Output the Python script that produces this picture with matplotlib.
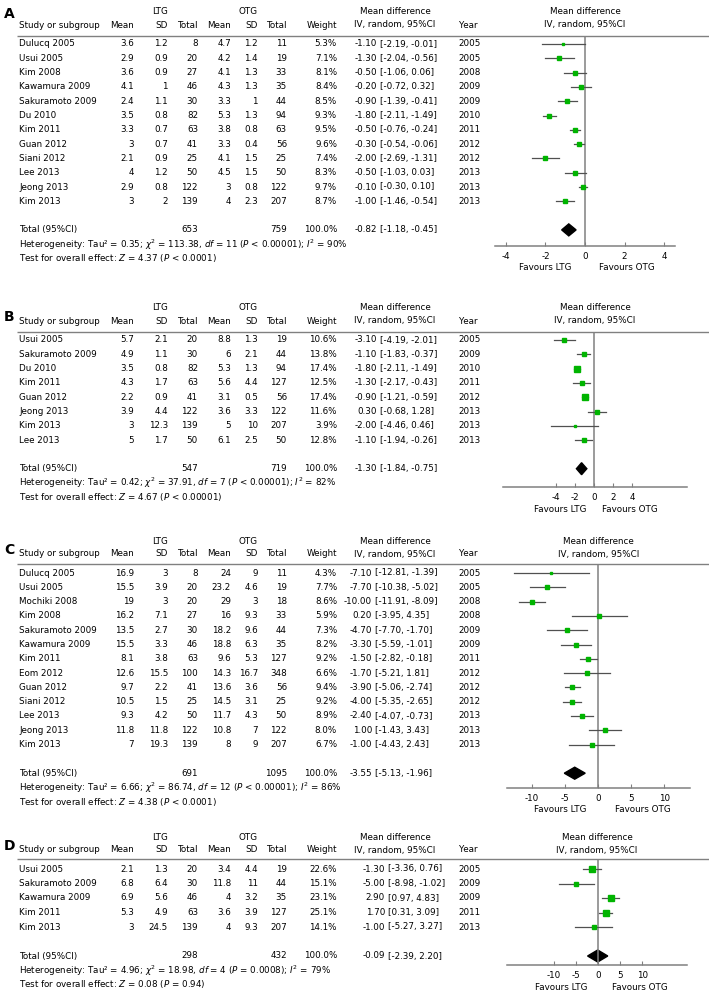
import matplotlib.pyplot as plt
import numpy as np

# ---- panel A ----
studies_a = ["Dulucq 2005", "Usui 2005", "Kim 2008", "Kawamura 2009", "Sakuramoto 2009", "Du 2010",
             "Kim 2011", "Guan 2012", "Siani 2012", "Lee 2013", "Jeong 2013", "Kim 2013"]
ltg_mean_a = [3.6, 2.9, 3.6, 4.1, 2.4, 3.5, 3.3, 3, 2.1, 4, 2.9, 3]
ltg_sd_a = [1.2, 0.9, 0.9, 1, 1.1, 0.8, 0.7, 0.7, 0.9, 1.2, 0.8, 2]
ltg_n_a = [8, 20, 27, 46, 30, 82, 63, 41, 25, 50, 122, 139]
otg_mean_a = [4.7, 4.2, 4.1, 4.3, 3.3, 5.3, 3.8, 3.3, 4.1, 4.5, 3, 4]
otg_sd_a = [1.2, 1.4, 1.3, 1.3, 1, 1.3, 0.8, 0.4, 1.5, 1.5, 0.8, 2.3]
otg_n_a = [11, 19, 33, 35, 44, 94, 63, 56, 25, 50, 122, 207]
weight_a = [5.3, 7.1, 8.1, 8.4, 8.5, 9.3, 9.5, 9.6, 7.4, 8.3, 9.7, 8.7]
md_a = [-1.10, -1.30, -0.50, -0.20, -0.90, -1.80, -0.50, -0.30, -2.00, -0.50, -0.10, -1.00]
lo_a = [-2.19, -2.04, -1.06, -0.72, -1.39, -2.11, -0.76, -0.54, -2.69, -1.03, -0.30, -1.46]
hi_a = [-0.01, -0.56, 0.06, 0.32, -0.41, -1.49, -0.24, -0.06, -1.31, 0.03, 0.10, -0.54]
year_a = [2005, 2005, 2008, 2009, 2009, 2010, 2011, 2012, 2012, 2013, 2013, 2013]
total_a = [653, 759, -0.82, -1.18, -0.45]
het_a = ["0.35", "113.38", "11", "< 0.00001", "90%"]
test_a = ["4.37", "< 0.0001"]
ticks_a = [-4, -2, 0, 2, 4]

# ---- panel B ----
studies_b = ["Usui 2005", "Sakuramoto 2009", "Du 2010", "Kim 2011", "Guan 2012", "Jeong 2013",
             "Kim 2013", "Lee 2013"]
ltg_mean_b = [5.7, 4.9, 3.5, 4.3, 2.2, 3.9, 3, 5]
ltg_sd_b = [2.1, 1.1, 0.8, 1.7, 0.9, 4.4, 12.3, 1.7]
ltg_n_b = [20, 30, 82, 63, 41, 122, 139, 50]
otg_mean_b = [8.8, 6, 5.3, 5.6, 3.1, 3.6, 5, 6.1]
otg_sd_b = [1.3, 2.1, 1.3, 4.4, 0.5, 3.3, 10, 2.5]
otg_n_b = [19, 44, 94, 127, 56, 122, 207, 50]
weight_b = [10.6, 13.8, 17.4, 12.5, 17.4, 11.6, 3.9, 12.8]
md_b = [-3.10, -1.10, -1.80, -1.30, -0.90, 0.30, -2.00, -1.10]
lo_b = [-4.19, -1.83, -2.11, -2.17, -1.21, -0.68, -4.46, -1.94]
hi_b = [-2.01, -0.37, -1.49, -0.43, -0.59, 1.28, 0.46, -0.26]
year_b = [2005, 2009, 2010, 2011, 2012, 2013, 2013, 2013]
total_b = [547, 719, -1.30, -1.84, -0.75]
het_b = ["0.42", "37.91", "7", "< 0.00001", "82%"]
test_b = ["4.67", "< 0.00001"]
ticks_b = [-4, -2, 0, 2, 4]

# ---- panel C ----
studies_c = ["Dulucq 2005", "Usui 2005", "Mochiki 2008", "Kim 2008", "Sakuramoto 2009", "Kawamura 2009",
             "Kim 2011", "Eom 2012", "Guan 2012", "Siani 2012", "Lee 2013", "Jeong 2013", "Kim 2013"]
ltg_mean_c = [16.9, 15.5, 19, 16.2, 13.5, 15.5, 8.1, 12.6, 9.7, 10.5, 9.3, 11.8, 7]
ltg_sd_c = [3, 3.9, 3, 7.1, 2.7, 3.3, 3.8, 15.5, 2.2, 1.5, 4.2, 11.8, 19.3]
ltg_n_c = [8, 20, 20, 27, 30, 46, 63, 100, 41, 25, 50, 122, 139]
otg_mean_c = [24, 23.2, 29, 16, 18.2, 18.8, 9.6, 14.3, 13.6, 14.5, 11.7, 10.8, 8]
otg_sd_c = [9, 4.6, 3, 9.3, 9.6, 6.3, 5.3, 16.7, 3.6, 3.1, 4.3, 7, 9]
otg_n_c = [11, 19, 18, 33, 44, 35, 127, 348, 56, 25, 50, 122, 207]
weight_c = [4.3, 7.7, 8.6, 5.9, 7.3, 8.2, 9.2, 6.6, 9.4, 9.2, 8.9, 8.0, 6.7]
md_c = [-7.10, -7.70, -10.00, 0.20, -4.70, -3.30, -1.50, -1.70, -3.90, -4.00, -2.40, 1.00, -1.00]
lo_c = [-12.81, -10.38, -11.91, -3.95, -7.70, -5.59, -2.82, -5.21, -5.06, -5.35, -4.07, -1.43, -4.43]
hi_c = [-1.39, -5.02, -8.09, 4.35, -1.70, -1.01, -0.18, 1.81, -2.74, -2.65, -0.73, 3.43, 2.43]
year_c = [2005, 2005, 2008, 2008, 2009, 2009, 2011, 2012, 2012, 2012, 2013, 2013, 2013]
total_c = [691, 1095, -3.55, -5.13, -1.96]
het_c = ["6.66", "86.74", "12", "< 0.00001", "86%"]
test_c = ["4.38", "< 0.0001"]
ticks_c = [-10, -5, 0, 5, 10]

# ---- panel D ----
studies_d = ["Usui 2005", "Sakuramoto 2009", "Kawamura 2009", "Kim 2011", "Kim 2013"]
ltg_mean_d = [2.1, 6.8, 6.9, 5.3, 3]
ltg_sd_d = [1.3, 6.4, 5.6, 4.9, 24.5]
ltg_n_d = [20, 30, 46, 63, 139]
otg_mean_d = [3.4, 11.8, 4, 3.6, 4]
otg_sd_d = [4.4, 11, 3.2, 3.9, 9.3]
otg_n_d = [19, 44, 35, 127, 207]
weight_d = [22.6, 15.1, 23.1, 25.1, 14.1]
md_d = [-1.30, -5.00, 2.90, 1.70, -1.00]
lo_d = [-3.36, -8.98, 0.97, 0.31, -5.27]
hi_d = [0.76, -1.02, 4.83, 3.09, 3.27]
year_d = [2005, 2009, 2009, 2011, 2013]
total_d = [298, 432, -0.09, -2.39, 2.20]
het_d = ["4.96", "18.98", "4", "= 0.0008", "79%"]
test_d = ["0.08", "= 0.94"]
ticks_d = [-10, -5, 0, 5, 10]

W, H = 709, 999
FS = 6.3
GREEN = '#00b400'
GRAY = '#808080'

fig = plt.figure(figsize=(W / 100, H / 100), dpi=100)
ax = fig.add_axes([0, 0, 1, 1])
ax.set_xlim(0, W)
ax.set_ylim(H, 0)
ax.axis('off')


def fmt(v):
    return '{:g}'.format(v)


def panel(letter, studies, lm, lsd, ln, om, osd, on, wt, md, lo, hi, yr, tot, het, test, ticks,
          y0, step, head_y, axis_y, fx0, fx1, xlim, md_x, fav):
    # header
    ax.text(4, y0 - 30 if letter == 'A' else y0 - 23, letter, fontsize=10, fontweight='bold', va='center')
    yh1 = y0 - 32
    yh2 = y0 - 19
    ax.text(160, yh1, "LTG", fontsize=FS, ha='center', va='center')
    ax.text(248, yh1, "OTG", fontsize=FS, ha='center', va='center')
    ax.text(395, yh1, "Mean difference", fontsize=FS, ha='center', va='center')
    fc = (fx0 + fx1) / 2
    ax.text(fc, yh1, "Mean difference", fontsize=FS, ha='center', va='center')
    ax.text(19, yh2, "Study or subgroup", fontsize=FS, va='center')
    for x, s in [(134, "Mean"), (168, "SD"), (198, "Total"), (231, "Mean"), (258, "SD"),
                 (287, "Total"), (337, "Weight")]:
        ax.text(x, yh2, s, fontsize=FS, ha='right', va='center')
    ax.text(395, yh2, "IV, random, 95%CI", fontsize=FS, ha='center', va='center')
    ax.text(468, yh2, "Year", fontsize=FS, ha='center', va='center')
    ax.text(fc, yh2, "IV, random, 95%CI", fontsize=FS, ha='center', va='center')
    ax.hlines(head_y, 17, W, color=GRAY, lw=1.0)

    n = len(studies)
    for i in range(n):
        y = y0 + i * step
        ax.text(19, y, studies[i], fontsize=FS, va='center')
        for x, v in [(134, lm[i]), (168, lsd[i]), (198, ln[i]), (231, om[i]), (258, osd[i]), (287, on[i])]:
            ax.text(x, y, fmt(v), fontsize=FS, ha='right', va='center')
        ax.text(337, y, '{:.1f}%'.format(wt[i]), fontsize=FS, ha='right', va='center')
        ax.text(md_x, y, '{:.2f}'.format(md[i]), fontsize=FS, ha='right', va='center')
        ax.text(md_x + 3, y, '[{:.2f}, {:.2f}]'.format(lo[i], hi[i]), fontsize=FS, va='center')
        ax.text(458, y, str(yr[i]), fontsize=FS, va='center')

    yt = y0 + (n + 1) * step
    ax.text(19, yt, "Total (95%CI)", fontsize=FS, va='center')
    ax.text(198, yt, str(tot[0]), fontsize=FS, ha='right', va='center')
    ax.text(287, yt, str(tot[1]), fontsize=FS, ha='right', va='center')
    ax.text(337, yt, "100.0%", fontsize=FS, ha='right', va='center')
    ax.text(md_x, yt, '{:.2f}'.format(tot[2]), fontsize=FS, ha='right', va='center')
    ax.text(md_x + 3, yt, '[{:.2f}, {:.2f}]'.format(tot[3], tot[4]), fontsize=FS, va='center')
    ax.text(19, yt + 14.5, "Heterogeneity: Tau² = %s; $\\chi^2$ = %s, $df$ = %s ($P$ %s); $I^2$ = %s"
            % tuple(het), fontsize=FS, va='center')
    ax.text(19, yt + 28.5, "Test for overall effect: $Z$ = %s ($P$ %s)" % tuple(test),
            fontsize=FS, va='center')

    # forest axes
    fa = fig.add_axes([fx0 / W, 1 - axis_y / H, (fx1 - fx0) / W, (axis_y - head_y) / H])
    fa.set_facecolor('none')
    fa.set_xlim(xlim)
    fa.set_ylim((axis_y - y0) / step, (head_y - y0) / step)
    for s in ['top', 'left', 'right']:
        fa.spines[s].set_visible(False)
    fa.spines['bottom'].set_color(GRAY)
    fa.spines['bottom'].set_linewidth(1.1)
    fa.set_yticks([])
    fa.set_xticks(ticks)
    fa.set_xticklabels([str(t) for t in ticks])
    fa.tick_params(axis='x', direction='in', length=3, color=GRAY, labelsize=FS, pad=4)
    fa.axvline(0, color=GRAY, lw=1.1)
    for i in range(n):
        fa.plot([lo[i], hi[i]], [i, i], color='#505050', lw=0.9)
        fa.plot(md[i], i, 's', ms=0.72 * 1.25 * np.sqrt(wt[i]), color=GREEN, mec=GREEN)
    d = 6.0 / step
    ti = n + 1
    fa.fill([tot[3], tot[2], tot[4], tot[2]], [ti, ti - d, ti, ti + d], color='black')

    ax.text(fav[0], axis_y + 22, "Favours LTG", fontsize=FS, ha='center', va='center')
    ax.text(fav[1], axis_y + 22, "Favours OTG", fontsize=FS, ha='center', va='center')


panel('A', studies_a, ltg_mean_a, ltg_sd_a, ltg_n_a, otg_mean_a, otg_sd_a, otg_n_a, weight_a,
      md_a, lo_a, hi_a, year_a, total_a, het_a, test_a, ticks_a,
      44, 14.3, 36, 246, 495, 675, (-4.55, 4.55), 377, (545, 627))
panel('B', studies_b, ltg_mean_b, ltg_sd_b, ltg_n_b, otg_mean_b, otg_sd_b, otg_n_b, weight_b,
      md_b, lo_b, hi_b, year_b, total_b, het_b, test_b, ticks_b,
      340, 14.3, 332, 487, 503, 687, (-9.5, 9.7), 377, (560, 630))
panel('C', studies_c, ltg_mean_c, ltg_sd_c, ltg_n_c, otg_mean_c, otg_sd_c, otg_n_c, weight_c,
      md_c, lo_c, hi_c, year_c, total_c, het_c, test_c, ticks_c,
      573, 14.3, 564, 788, 507, 690, (-13.8, 13.9), 372, (560, 643))
panel('D', studies_d, ltg_mean_d, ltg_sd_d, ltg_n_d, otg_mean_d, otg_sd_d, otg_n_d, weight_d,
      md_d, lo_d, hi_d, year_d, total_d, het_d, test_d, ticks_d,
      869, 14.5, 859, 965, 507, 687, (-20.7, 20.2), 385, (561, 640))

fig.savefig('out.png', dpi=100)
